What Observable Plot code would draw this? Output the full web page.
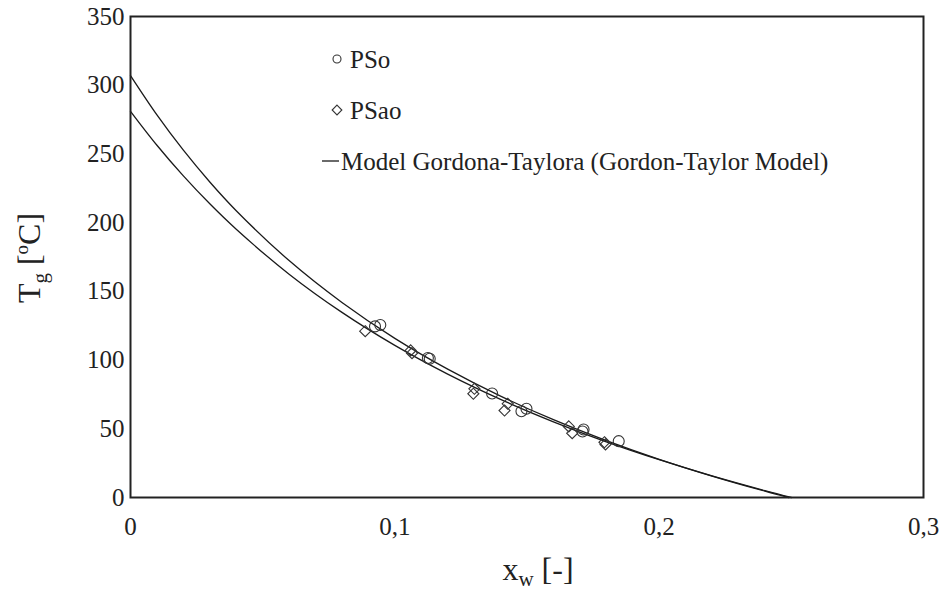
<!DOCTYPE html>
<html><head><meta charset="utf-8">
<script src="https://cdn.jsdelivr.net/npm/d3@7"></script>
<script src="https://cdn.jsdelivr.net/npm/@observablehq/plot@0.6"></script>
<style>
body{margin:0;background:#fff}
svg, svg text{font-family:"Liberation Serif","Times New Roman",Times,"DejaVu Serif",serif !important}
</style>
</head><body><div id="chart"></div>
<script>
// Gordon-Taylor model curves
const modelUpperX  = [0, 0.01, 0.02, 0.03, 0.04, 0.06, 0.08, 0.10, 0.12, 0.14, 0.16, 0.18, 0.20, 0.22, 0.24, 0.249];
const modelUpperTg = [307, 278.4, 252.7, 229.6, 208.7, 172.4, 141.9, 115.8, 93.4, 73.8, 56.6, 41.4, 27.8, 15.6, 4.6, 0];
const modelLowerX  = [0, 0.01, 0.02, 0.03, 0.04, 0.06, 0.08, 0.10, 0.12, 0.14, 0.16, 0.18, 0.20, 0.22, 0.24, 0.25];
const modelLowerTg = [281, 256.3, 234.0, 213.7, 195.2, 162.5, 134.7, 110.7, 89.8, 71.4, 55.1, 40.5, 27.5, 15.7, 5.0, 0];

// PSo (circles)
const psoX  = [0.0925, 0.0945, 0.1125, 0.1132, 0.1368, 0.1479, 0.1498, 0.1710, 0.1714, 0.1847];
const psoTg = [124.5, 125.5, 101.5, 101.0, 75.7, 62.8, 64.6, 48.0, 49.5, 41.0];

// PSao (diamonds)
const psaoX  = [0.0888, 0.1060, 0.1065, 0.1301, 0.1297, 0.1427, 0.1415, 0.1658, 0.1671, 0.1793, 0.1797];
const psaoTg = [121.0, 107.0, 105.0, 79.1, 75.5, 68.2, 63.3, 51.7, 46.8, 40.2, 38.6];

const xTicks = [0, 0.1, 0.2, 0.3];
const yTicks = [0, 50, 100, 150, 200, 250, 300, 350];
const legendLabels = ["PSo", "PSao", "Model Gordona-Taylora (Gordon-Taylor Model)"];

const upper = modelUpperX.map((x, i) => ({x, y: modelUpperTg[i]}));
const lower = modelLowerX.map((x, i) => ({x, y: modelLowerTg[i]}));
const pso = psoX.map((x, i) => ({x, y: psoTg[i]}));
const psao = psaoX.map((x, i) => ({x, y: psaoTg[i]}));

const fmt = d => String(d).replace(".", ",");
const FONT = "'Liberation Serif', 'Times New Roman', serif";

const chart = Plot.plot({
  width: 943, height: 597,
  marginTop: 16, marginBottom: 100, marginLeft: 130, marginRight: 20,
  style: `font-family: ${FONT}; font-size: 25px; color: #222; background: #fff; overflow: visible;`,
  x: {domain: [0, 0.3], ticks: xTicks, tickFormat: fmt, tickSize: 0, tickPadding: 20, label: null},
  y: {domain: [0, 350], ticks: yTicks, tickSize: 0, tickPadding: 6, label: null},
  marks: [
    Plot.line(upper, {x: "x", y: "y", curve: "catmull-rom", stroke: "#1a1a1a", strokeWidth: 1.3}),
    Plot.line(lower, {x: "x", y: "y", curve: "catmull-rom", stroke: "#1a1a1a", strokeWidth: 1.3}),
    Plot.dot(psao, {x: "x", y: "y", symbol: "diamond2", r: 5, stroke: "#333", fill: "none", strokeWidth: 1.1}),
    Plot.dot(pso, {x: "x", y: "y", r: 5.5, stroke: "#333", fill: "none", strokeWidth: 1.1}),
    Plot.frame({stroke: "#222", strokeWidth: 2})
  ]
});

const svg = d3.select(chart).attr("font-family", FONT);
svg.selectAll("text").attr("font-family", FONT);
// legend
const lg = svg.append("g").attr("font-size", 25).attr("fill", "#222").attr("text-anchor", "start");
const rows = [59, 110, 161];
lg.append("circle").attr("cx", 337).attr("cy", rows[0]).attr("r", 4).attr("fill", "none").attr("stroke", "#333").attr("stroke-width", 1.1);
lg.append("path").attr("d", d3.symbol(d3.symbolDiamond2, 60)()).attr("transform", `translate(337,${rows[1]})`).attr("fill", "none").attr("stroke", "#333").attr("stroke-width", 1.1);
lg.append("line").attr("x1", 322).attr("x2", 339).attr("y1", rows[2]).attr("y2", rows[2]).attr("stroke", "#1a1a1a").attr("stroke-width", 1.3);
legendLabels.forEach((t, i) => {
  lg.append("text").attr("x", i === 2 ? 341 : 350).attr("y", rows[i]).attr("dy", "0.35em").attr("font-family", FONT).text(t);
});

// axis titles
const yt = svg.append("text").attr("font-size", 32).attr("fill", "#222").attr("font-family", FONT)
  .attr("text-anchor", "middle").attr("transform", "translate(40,258) rotate(-90)");
yt.append("tspan").text("T");
yt.append("tspan").attr("font-size", 21).attr("dy", 7).text("g");
yt.append("tspan").attr("dy", -7).text(" [");
yt.append("tspan").attr("font-size", 19).attr("dy", -12).text("o");
yt.append("tspan").attr("dy", 12).text("C]");

const xt = svg.append("text").attr("font-size", 32).attr("fill", "#222").attr("font-family", FONT)
  .attr("text-anchor", "middle").attr("x", 538).attr("y", 580);
xt.append("tspan").text("x");
xt.append("tspan").attr("font-size", 21).attr("dy", 6).text("w");
xt.append("tspan").attr("dy", -6).text(" [-]");

document.getElementById("chart").append(chart);
</script>
</body></html>
